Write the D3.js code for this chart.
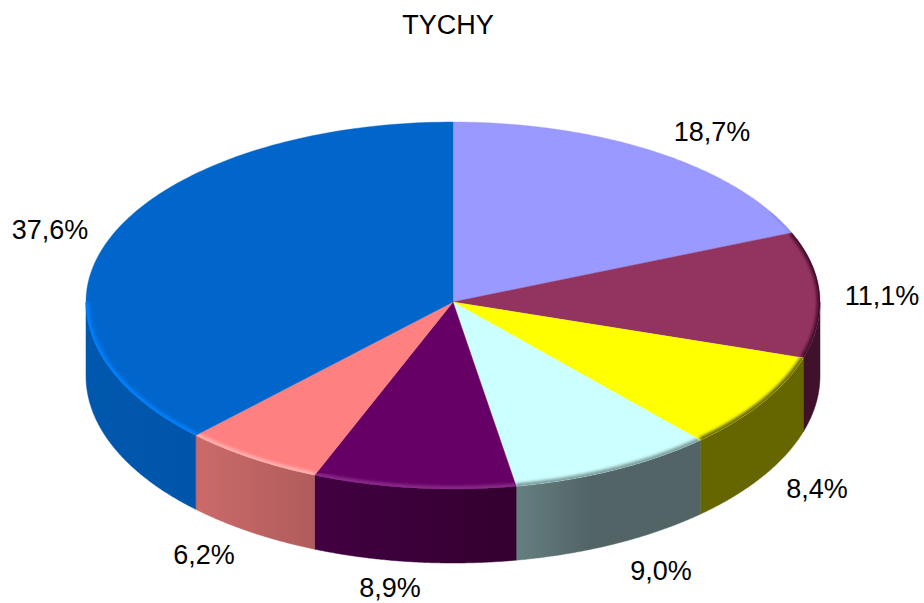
<!DOCTYPE html>
<html><head><meta charset="utf-8">
<script src="https://cdn.jsdelivr.net/npm/d3@7/dist/d3.min.js"></script>
<style>html,body{margin:0;background:#fff}svg{display:block}text{font-family:"Liberation Sans",Arial,sans-serif;fill:#000}</style>
</head><body><svg id="c" width="924" height="603"></svg>
<script>
const title = "TYCHY";
const labels = ["18,7%","11,1%","8,4%","9,0%","8,9%","6,2%","37,6%"];
const values = [18.7,11.1,8.4,9.0,8.9,6.2,37.6];
const topColors = ["#9999ff","#933360","#ffff00","#ccffff","#660066","#ff8080","#0066cc"];
const sideFrom = ["#5c5c99","#3f112a","#666600","#657f7f","#420042","#cc6a6a","#0058ae"];
const sideTo   = ["#5c5c99","#3f112a","#666600","#526466","#33002f","#b05c5c","#0055aa"];
const rimColors = ["#8080dd","#3f112a","#666600","#7f9c9c","#8a2a8a","#ffb0b0","#0080ff"];
const labelX = [712,882,817,661,390,204,50];
const labelY = [131,295,488,570,587,554,229];

const cx=453, cy=302, rx=367, ryBack=180, ryFront=187, depth=74;
const svg=d3.select("#c"), defs=svg.append("defs");
const blur=defs.append("filter").attr("id","b").attr("x","-10%").attr("y","-10%").attr("width","120%").attr("height","120%");
blur.append("feGaussianBlur").attr("stdDeviation",1.4);

const pie=d3.pie().sort(null).value(d=>d).startAngle(0).endAngle(2*Math.PI);
const arcs=pie(values);
const px=t=>cx+rx*Math.sin(t);
const py=t=>{const c=Math.cos(t);return cy-(c>0?ryBack:ryFront)*c;};
const line=d3.line().x(d=>d[0]).y(d=>d[1]);
const samples=(a,b)=>d3.range(0,121).map(i=>a+(b-a)*i/120);
const edge=(a,b,dy=0)=>samples(a,b).map(t=>[px(t),py(t)+dy]);

const H=Math.PI/2, E=3*Math.PI/2, rimStart=Math.PI/3;
arcs.forEach((d,i)=>{
  const a=Math.max(d.startAngle,H), b=Math.min(d.endAngle,E);
  if(b<=a) return;
  const g=defs.append("linearGradient").attr("id","s"+i).attr("x1",0).attr("x2",1).attr("y1",0).attr("y2",0);
  g.append("stop").attr("offset",0).attr("stop-color",sideFrom[i]);
  g.append("stop").attr("offset",i==3?0.4:1).attr("stop-color",sideTo[i]);
  const pts=edge(a,b).concat(edge(b,a,depth));
  svg.append("path").attr("d",line(pts)+"Z").attr("fill",`url(#s${i})`).attr("stroke",`url(#s${i})`).attr("stroke-width",0.5);
});

arcs.forEach((d,i)=>{
  const pts=[[cx,cy]].concat(edge(d.startAngle,d.endAngle));
  const dstr=line(pts)+"Z";
  defs.append("clipPath").attr("id","t"+i).append("path").attr("d",dstr);
  svg.append("path").attr("d",dstr).attr("fill",topColors[i]).attr("stroke",topColors[i]).attr("stroke-width",0.4);
  const a=Math.max(d.startAngle,rimStart), b=Math.min(d.endAngle,E);
  if(b>a) svg.append("g").attr("clip-path",`url(#t${i})`).append("path")
    .attr("d",line(edge(a,b)))
    .attr("fill","none").attr("stroke",rimColors[i]).attr("stroke-width",i==0?2:6).attr("filter","url(#b)");
});

svg.append("g").selectAll("text").data(labels).join("text")
  .attr("x",(d,i)=>labelX[i]).attr("y",(d,i)=>labelY[i]).attr("dy","0.36em")
  .attr("text-anchor","middle").attr("font-size",27).text(d=>d);
svg.append("text").attr("x",448).attr("y",24).attr("dy","0.36em").attr("text-anchor","middle").attr("font-size",27).text(title);
</script></body></html>
